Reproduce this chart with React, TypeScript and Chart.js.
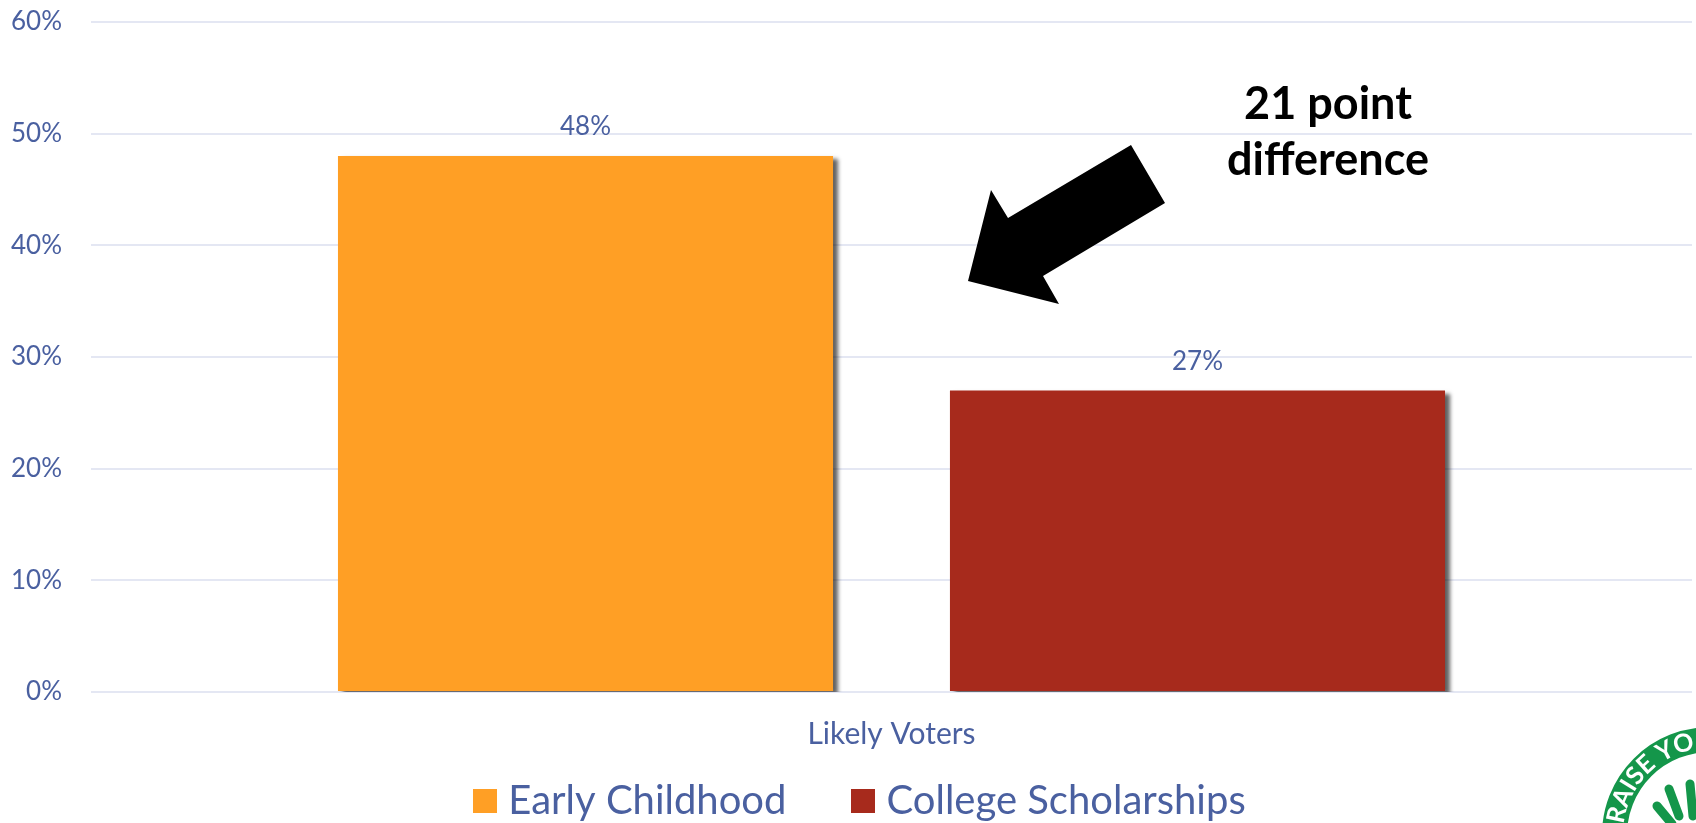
import React, { useEffect, useRef } from "react";
import { Chart, registerables } from "chart.js";

Chart.register(...registerables);

const categories = ["Likely Voters"];
const earlyChildhood = [48];
const collegeScholarships = [27];
const seriesNames = ["Early Childhood", "College Scholarships"];
const seriesColors = ["#FF9F25", "#A72A1C"];
const annotationLines = ["21 point", "difference"];
const logoText = "RAISE YOUR HAND";

const TEXT = "#4A60A0";
const FONT = "Lato";

function swatch(color: string) {
  const c = document.createElement("canvas");
  c.width = 24;
  c.height = 24;
  const g = c.getContext("2d")!;
  g.fillStyle = color;
  g.fillRect(0, 0, 24, 24);
  return c;
}

const legendPlacement = {
  id: "legendPlacement",
  afterLayout(chart: any) {
    const l = chart.legend;
    l.top = 707;
    l.left += 18;
    l.right += 18;
    chart.scales.x.bottom += 60;
  },
};

const barLabels = {
  id: "barLabels",
  afterDatasetsDraw(chart: any) {
    const { ctx } = chart;
    ctx.save();
    ctx.shadowColor = "transparent";
    ctx.font = `26px ${FONT}`;
    ctx.fillStyle = TEXT;
    ctx.textAlign = "center";
    ctx.textBaseline = "alphabetic";
    chart.data.datasets.forEach((ds: any, i: number) => {
      chart.getDatasetMeta(i).data.forEach((el: any, j: number) => {
        ctx.fillText(`${ds.data[j]}%`, el.x, el.y - 21);
      });
    });
    ctx.restore();
  },
};

const barShadow = {
  id: "barShadow",
  beforeDatasetsDraw(chart: any) {
    const { ctx } = chart;
    ctx.save();
    ctx.shadowColor = "rgba(0,0,0,0.62)";
    ctx.shadowOffsetX = 5;
    ctx.shadowOffsetY = 3;
    ctx.shadowBlur = 4;
  },
  afterDatasetsDraw(chart: any) {
    chart.ctx.restore();
  },
};

const callout = {
  id: "callout",
  afterDraw(chart: any) {
    const { ctx } = chart;
    ctx.save();
    ctx.fillStyle = "#000";
    ctx.beginPath();
    const pts = [
      [1131, 145], [1165, 203], [1043, 276], [1059, 304],
      [968, 281], [991, 190], [1008, 218],
    ];
    pts.forEach(([x, y], i) => (i ? ctx.lineTo(x, y) : ctx.moveTo(x, y)));
    ctx.closePath();
    ctx.fill();
    ctx.font = `bold 45px ${FONT}`;
    ctx.textAlign = "center";
    ctx.textBaseline = "alphabetic";
    ctx.fillText(annotationLines[0], 1328, 119);
    ctx.fillText(annotationLines[1], 1328, 175);
    ctx.restore();
  },
};

const logo = {
  id: "logo",
  afterDraw(chart: any) {
    const { ctx } = chart;
    const cx = 1710, cy = 835;
    const green = "#14964A";
    ctx.save();
    ctx.strokeStyle = green;
    ctx.lineWidth = 25;
    ctx.beginPath();
    ctx.arc(cx, cy, 95.5, 0, Math.PI * 2);
    ctx.stroke();
    ctx.lineCap = "round";
    ctx.lineWidth = 9;
    [
      [1657, 806, 1672, 824],
      [1669, 789, 1679, 816],
      [1690, 784, 1693, 816],
    ].forEach(([a, b, c, d]) => {
      ctx.beginPath();
      ctx.moveTo(a, b);
      ctx.lineTo(c, d);
      ctx.stroke();
    });
    ctx.fillStyle = "#fff";
    ctx.font = `bold 25px ${FONT}`;
    ctx.textAlign = "center";
    ctx.textBaseline = "alphabetic";
    const r = 87;
    let angle = Math.PI + (7 * Math.PI) / 180;
    for (const ch of logoText) {
      const w = ctx.measureText(ch).width;
      const mid = angle + w / 2 / r;
      ctx.save();
      ctx.translate(cx + r * Math.cos(mid), cy + r * Math.sin(mid));
      ctx.rotate(mid + Math.PI / 2);
      ctx.fillText(ch, 0, 0);
      ctx.restore();
      angle += w / r;
    }
    ctx.restore();
  },
};

export default function App() {
  const ref = useRef<HTMLCanvasElement>(null);
  useEffect(() => {
    document.body.style.margin = "0";
    const chart = new Chart(ref.current!, {
      type: "bar",
      data: {
        labels: categories,
        datasets: [
          {
            label: seriesNames[0],
            data: earlyChildhood,
            backgroundColor: seriesColors[0],
            pointStyle: swatch(seriesColors[0]) as any,
          },
          {
            label: seriesNames[1],
            data: collegeScholarships,
            backgroundColor: seriesColors[1],
            pointStyle: swatch(seriesColors[1]) as any,
          },
        ],
      },
      options: {
        responsive: false,
        animation: false,
        layout: { padding: { top: 22, right: 4, left: 0, bottom: 0 } },
        datasets: { bar: { categoryPercentage: 0.7645, barPercentage: 0.809 } },
        plugins: {
          tooltip: { enabled: false },
          legend: {
            position: "bottom",
            labels: {
              usePointStyle: true,
              pointStyleWidth: 6,
              padding: 74,
              color: TEXT,
              font: { family: FONT, size: 40 },
              boxHeight: 24,
            },
          },
        },
        scales: {
          x: {
            grid: { display: false },
            border: { display: false },
            ticks: { color: TEXT, font: { family: FONT, size: 30 }, padding: 16 },
            afterFit(s: any) {
              s.height = 7;
            },
          },
          y: {
            min: 0,
            max: 60,
            border: { display: false },
            grid: { color: "#E4E7F3", lineWidth: 2, tickLength: 0 },
            ticks: {
              stepSize: 10,
              color: TEXT,
              padding: 29,
              font: { family: FONT, size: 26 },
              callback: (v: any) => `${v}%`,
            },
            afterFit(s: any) {
              s.width = 91;
              s.paddingTop = 0;
              s.paddingBottom = 0;
            },
          },
        },
      },
      plugins: [legendPlacement, barShadow, barLabels, callout, logo],
    } as any);
    return () => chart.destroy();
  }, []);
  return (
    <canvas
      ref={ref}
      width={1696}
      height={823}
      style={{ display: "block", width: 1696, height: 823, background: "#fff" }}
    />
  );
}
